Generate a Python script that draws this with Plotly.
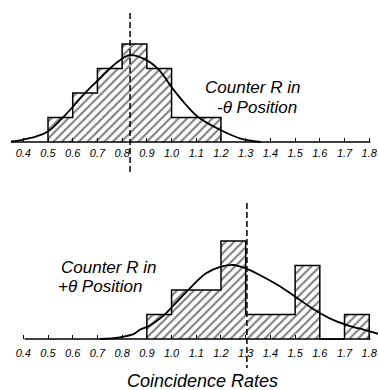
import plotly.graph_objects as go

W, H = 378, 390

# ---- data ----
tick_vals = [0.4, 0.5, 0.6, 0.7, 0.8, 0.9, 1.0, 1.1, 1.2, 1.3, 1.4, 1.5, 1.6, 1.7, 1.8]
tick_text = ["0.4", "0.5", "0.6", "0.7", "0.8", "0.9", "1.0", "1.1", "1.2", "1.3",
             "1.4", "1.5", "1.6", "1.7", "1.8"]

# Counter R in -theta position (top)
top_edges = [0.5, 0.6, 0.7, 0.8, 0.9, 1.0, 1.1, 1.2]
top_counts = [1, 2, 3, 4, 3, 1, 1]
top_curve_x = [0.35, 0.40, 0.45, 0.50, 0.56, 0.60, 0.65, 0.70, 0.75, 0.79, 0.83,
               0.90, 0.95, 1.00, 1.06, 1.11, 1.20, 1.28, 1.36]
top_curve_y = [0.02, 0.10, 0.22, 0.43, 1.00, 1.43, 2.00, 2.50, 3.00, 3.33, 3.54,
               3.33, 2.93, 2.24, 1.50, 1.00, 0.48, 0.14, 0.00]
top_mean = 0.832
top_axis_extent = [0.35, 1.805]

# Counter R in +theta position (bottom)
bot_edges = [0.9, 1.0, 1.1, 1.2, 1.3, 1.4, 1.5, 1.6, 1.7, 1.8]
bot_counts = [1, 2, 2, 4, 1, 1, 3, 0, 1]
bot_curve_x = [0.71, 0.79, 0.85, 0.87, 0.91, 0.97, 1.01, 1.07, 1.14, 1.20, 1.25,
               1.30, 1.37, 1.44, 1.51, 1.58, 1.64, 1.71, 1.78, 1.84]
bot_curve_y = [0.00, 0.07, 0.22, 0.37, 0.54, 0.98, 1.39, 2.03, 2.68, 2.95, 3.02,
               2.88, 2.54, 2.14, 1.66, 1.18, 0.84, 0.57, 0.37, 0.20]
bot_mean = 1.305
bot_axis_extent = [0.405, 1.805]

# ---- helpers ----
def px(x):
    return x / W

def py(y):
    return 1 - y / H

UNIT = 24.5  # px per count
X_RANGE = [0.4 - 23.3 / 247.1, 0.4 + (W - 23.3) / 247.1]

fig = go.Figure()

def add_hist(edges, counts, curve_x, curve_y, extent, xa, ya):
    centers = [(edges[i] + edges[i + 1]) / 2 for i in range(len(counts))]
    widths = [edges[i + 1] - edges[i] for i in range(len(counts))]
    fig.add_trace(go.Bar(
        x=centers, y=counts, width=widths, xaxis=xa, yaxis=ya,
        marker=dict(color="white", line=dict(width=0),
                    pattern=dict(shape="/", fgcolor="black", bgcolor="white",
                                 size=6, solidity=0.36)),
        hoverinfo="skip"))
    # step outline
    sx = [edges[0]] + edges[:-1] + [edges[-1]]
    sy = [0] + counts + [0]
    fig.add_trace(go.Scatter(x=sx, y=sy, mode="lines", line_shape="hv",
                             line=dict(color="black", width=1.5),
                             xaxis=xa, yaxis=ya, hoverinfo="skip"))
    # baseline
    fig.add_trace(go.Scatter(x=extent, y=[0, 0], mode="lines",
                             line=dict(color="black", width=1.5),
                             xaxis=xa, yaxis=ya, hoverinfo="skip"))
    # fitted curve
    fig.add_trace(go.Scatter(x=curve_x, y=curve_y, mode="lines",
                             line=dict(color="black", width=1.8, shape="spline",
                                       smoothing=1.0),
                             xaxis=xa, yaxis=ya, hoverinfo="skip"))

add_hist(top_edges, top_counts, top_curve_x, top_curve_y, top_axis_extent, "x", "y")
add_hist(bot_edges, bot_counts, bot_curve_x, bot_curve_y, bot_axis_extent, "x2", "y2")

tickfont = dict(family="Liberation Sans", size=11, color="black", style="italic")
xcommon = dict(range=X_RANGE, domain=[0, 1], tickmode="array", tickvals=tick_vals,
               ticktext=tick_text, ticks="inside", ticklen=4, tickwidth=1.2,
               tickcolor="black", showline=False, showgrid=False, zeroline=False,
               tickfont=tickfont, fixedrange=True)

top_base, bot_base = 142, 339
fig.update_layout(
    width=W, height=H, margin=dict(l=0, r=0, t=0, b=0),
    paper_bgcolor="white", plot_bgcolor="white", showlegend=False,
    bargap=0,
    xaxis=dict(**xcommon, anchor="free", position=py(top_base), ticklabelstandoff=3),
    xaxis2=dict(**xcommon, anchor="free", position=py(bot_base), ticklabelstandoff=6),
    yaxis=dict(domain=[py(150), 1], range=[-(150 - top_base) / UNIT, top_base / UNIT],
               visible=False, fixedrange=True),
    yaxis2=dict(domain=[py(345), py(196)],
                range=[-(345 - bot_base) / UNIT, (bot_base - 196) / UNIT],
                visible=False, fixedrange=True),
)

# dashed mean lines
fig.add_shape(type="line", xref="x", yref="paper", x0=top_mean, x1=top_mean,
              y0=py(13), y1=py(173), line=dict(color="black", width=1.5, dash="6px,3px"))
fig.add_shape(type="line", xref="x2", yref="paper", x0=bot_mean, x1=bot_mean,
              y0=py(203), y1=py(368), line=dict(color="black", width=1.5, dash="6px,3px"))

lab = dict(family="Liberation Sans", size=17, color="black", style="italic")
def note(text, x, y, xanchor="left", size=17):
    f = dict(lab)
    f["size"] = size
    fig.add_annotation(text=text, xref="paper", yref="paper", x=px(x), y=py(y),
                       xanchor=xanchor, yanchor="middle", showarrow=False, font=f)

note("Counter R in", 203, 87)
note("-θ Position", 215, 107)
note("Counter R in", 59, 267)
note("+θ Position", 56, 286)
note("Coincidence Rates", 202, 381, xanchor="center", size=18)

fig.write_html("out.html", config={"displayModeBar": False},
               post_script="document.body.style.margin='0';document.body.style.padding='0';")
